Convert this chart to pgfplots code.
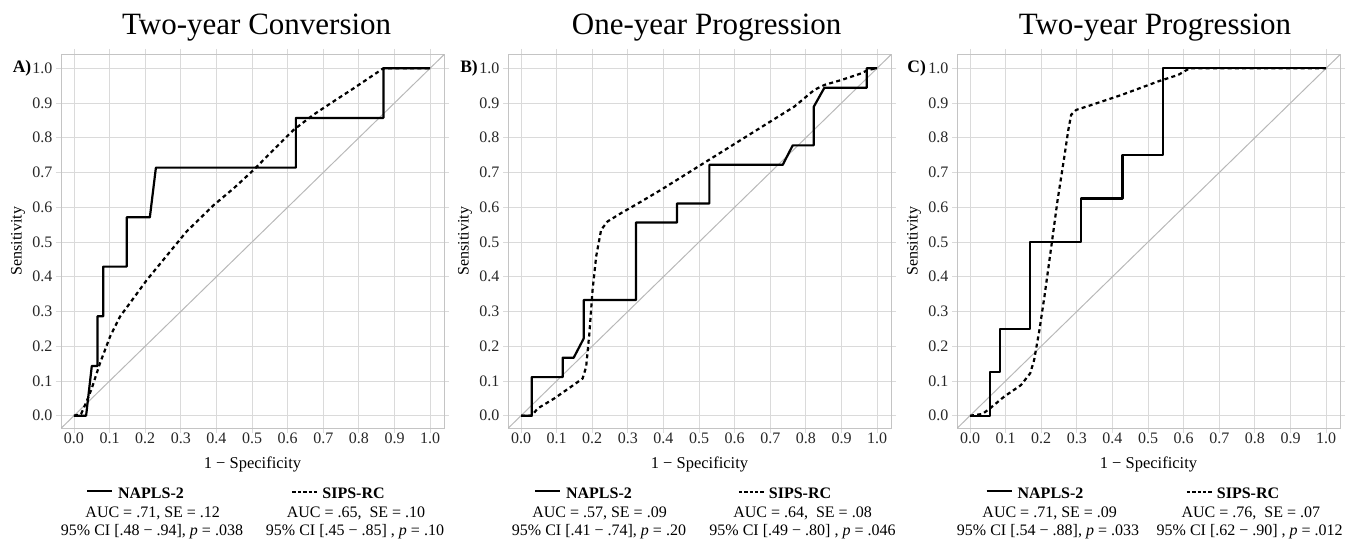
\documentclass[border=0pt]{standalone}
\usepackage{fontspec}
\setmainfont{Liberation Serif}
\usepackage{pgfplots}
\pgfplotsset{compat=1.18}
\definecolor{gridc}{HTML}{DADADA}
\definecolor{framec}{HTML}{C4C4C4}
\definecolor{diagc}{HTML}{B8B8B8}
\newcommand{\lf}{\fontsize{16}{19}\selectfont}
\newcommand{\solidkey}{\rule[6.5pt]{25pt}{2pt}\hspace{6pt}}
\newcommand{\dashkey}{\rule[5pt]{3.4pt}{2pt}\hspace{2pt}\rule[5pt]{3.4pt}{2pt}\hspace{2pt}\rule[5pt]{3.4pt}{2pt}\hspace{2pt}\rule[5pt]{3.4pt}{2pt}\hspace{2pt}\rule[5pt]{3.4pt}{2pt}\hspace{5pt}}
\pgfplotsset{rocax/.style={
  scale only axis, width=383pt, height=374pt, anchor=south west,
  xmin=-0.0365, xmax=1.039, ymin=-0.0354, ymax=1.041,
  xtick={0,0.1,0.2,0.3,0.4,0.5,0.6,0.7,0.8,0.9,1},
  ytick={0,0.1,0.2,0.3,0.4,0.5,0.6,0.7,0.8,0.9,1},
  grid=major, major grid style={draw=gridc, line width=0.9pt},
  axis line style={draw=framec, line width=0.9pt},
  tick align=outside, major tick length=5pt,
  major tick style={draw=gridc, line width=0.9pt},
  /pgf/number format/assume math mode=true,
  /pgf/number format/fixed, /pgf/number format/fixed zerofill, /pgf/number format/precision=1,
  tick label style={font=\lf, text=black!85},
  xticklabel style={anchor=base, yshift=-10pt},
  xlabel={1 − Specificity}, ylabel={Sensitivity},
  xlabel style={font=\fontsize{16.5}{19}\selectfont, at={(axis description cs:0.5,-0.1096)}, anchor=base},
  ylabel style={font=\lf, at={(axis description cs:-0.1123,0.5)}, anchor=center},
  clip=false,
},
naplsst/.style={black, line width=2.2pt, line join=round},
sipsst/.style={black, line width=2.2pt, dash pattern=on 4pt off 3.3pt},
diag/.style={diagc, line width=1pt}}
\begin{document}
\begin{tikzpicture}
\useasboundingbox (0pt,0pt) rectangle (1363pt,542pt);
% ---------- Panel A
\begin{axis}[rocax, at={(61pt,114pt)}]
\addplot[diag] coordinates {(-0.0354,-0.0354) (1.039,1.039)};
\addplot[sipsst] coordinates {(0,0) (0.02,0.005) (0.037,0.045) (0.05,0.079) (0.073,0.151) (0.101,0.227) (0.129,0.285) (0.167,0.338) (0.204,0.39) (0.26,0.46) (0.316,0.53) (0.391,0.605) (0.448,0.654) (0.504,0.707) (0.56,0.765) (0.616,0.822) (0.672,0.866) (0.728,0.904) (0.785,0.942) (0.869,1.0) (1,1)};
\addplot[naplsst] coordinates {(0,0) (0.034,0) (0.050,0.143) (0.066,0.143) (0.066,0.286) (0.082,0.286) (0.082,0.429) (0.148,0.429) (0.148,0.571) (0.213,0.571) (0.230,0.714) (0.623,0.714) (0.623,0.857) (0.869,0.857) (0.869,1) (1,1)};
\end{axis}
% ---------- Panel B
\begin{axis}[rocax, at={(508pt,114pt)}]
\addplot[diag] coordinates {(-0.0354,-0.0354) (1.039,1.039)};
\addplot[sipsst] coordinates {(0,0) (0.03,0) (0.047,0.021) (0.094,0.05) (0.14,0.083) (0.173,0.107) (0.183,0.141) (0.192,0.237) (0.201,0.362) (0.211,0.458) (0.225,0.535) (0.243,0.559) (0.281,0.583) (0.337,0.616) (0.393,0.65) (0.468,0.698) (0.543,0.746) (0.618,0.794) (0.693,0.842) (0.768,0.89) (0.824,0.938) (0.852,0.952) (0.899,0.966) (0.955,0.985) (0.974,0.995) (1,1)};
\addplot[naplsst] coordinates {(0,0) (0.030,0) (0.030,0.111) (0.117,0.111) (0.117,0.167) (0.148,0.167) (0.176,0.222) (0.176,0.333) (0.323,0.333) (0.323,0.556) (0.438,0.556) (0.438,0.611) (0.529,0.611) (0.529,0.722) (0.735,0.722) (0.763,0.778) (0.822,0.778) (0.822,0.889) (0.852,0.944) (0.971,0.944) (0.971,1) (1,1)};
\end{axis}
% ---------- Panel C
\begin{axis}[rocax, at={(957pt,114pt)}]
\addplot[diag] coordinates {(-0.0354,-0.0354) (1.039,1.039)};
\addplot[sipsst] coordinates {(0,0) (0.035,0.005) (0.056,0.021) (0.096,0.055) (0.143,0.088) (0.169,0.122) (0.18,0.16) (0.195,0.247) (0.209,0.343) (0.227,0.477) (0.246,0.621) (0.265,0.746) (0.276,0.822) (0.284,0.866) (0.298,0.88) (0.34,0.894) (0.425,0.923) (0.528,0.962) (0.585,0.981) (0.617,1.0) (1,1)};
\addplot[naplsst] coordinates {(0,0) (0.056,0) (0.056,0.125) (0.085,0.125) (0.085,0.25) (0.169,0.25) (0.169,0.5) (0.312,0.5) (0.312,0.625) (0.428,0.625) (0.428,0.75) (0.542,0.75) (0.542,1) (1,1)};
\end{axis}
% ---------- titles
\node[font=\fontsize{31}{36}\selectfont, anchor=base] at (256.7pt,507pt) {Two-year Conversion};
\node[font=\fontsize{31}{36}\selectfont, anchor=base] at (706.7pt,507pt) {One-year Progression};
\node[font=\fontsize{31}{36}\selectfont, anchor=base] at (1155pt,507pt) {Two-year Progression};
% ---------- panel letters
\node[font=\bfseries\fontsize{17.5}{20}\selectfont] at (22pt,474pt) {A)};
\node[font=\bfseries\fontsize{17.5}{20}\selectfont] at (469pt,474pt) {B)};
\node[font=\bfseries\fontsize{17.5}{20}\selectfont] at (916.7pt,474pt) {C)};
% ---------- legends
\begin{scope}[every node/.style={font=\lf, anchor=base, inner sep=0pt}]
% A
\node at (135.5pt,44pt) {\solidkey\textbf{NAPLS-2}};
\node at (152.7pt,25pt) {AUC = .71, SE = .12};
\node at (152pt,7pt) {95\% CI [.48 − .94], \textit{p} = .038};
\node at (338.5pt,44pt) {\dashkey\textbf{SIPS-RC}};
\node at (356pt,25pt) {AUC = .65,\ \ SE = .10};
\node at (355pt,7pt) {95\% CI [.45 − .85]\ , \textit{p} = .10};
% B
\node at (583.5pt,44pt) {\solidkey\textbf{NAPLS-2}};
\node at (599.5pt,25pt) {AUC = .57, SE = .09};
\node at (599pt,7pt) {95\% CI [.41 − .74], \textit{p} = .20};
\node at (785pt,44pt) {\dashkey\textbf{SIPS-RC}};
\node at (802.5pt,25pt) {AUC = .64,\ \ SE = .08};
\node at (802.5pt,7pt) {95\% CI [.49 − .80]\ , \textit{p} = .046};
% C
\node at (1035pt,44pt) {\solidkey\textbf{NAPLS-2}};
\node at (1049.7pt,25pt) {AUC = .71, SE = .09};
\node at (1048pt,7pt) {95\% CI [.54 − .88], \textit{p} = .033};
\node at (1233pt,44pt) {\dashkey\textbf{SIPS-RC}};
\node at (1250.8pt,25pt) {AUC = .76,\ \ SE = .07};
\node at (1249.7pt,7pt) {95\% CI [.62 − .90]\ , \textit{p} = .012};
\end{scope}
\end{tikzpicture}
\end{document}
